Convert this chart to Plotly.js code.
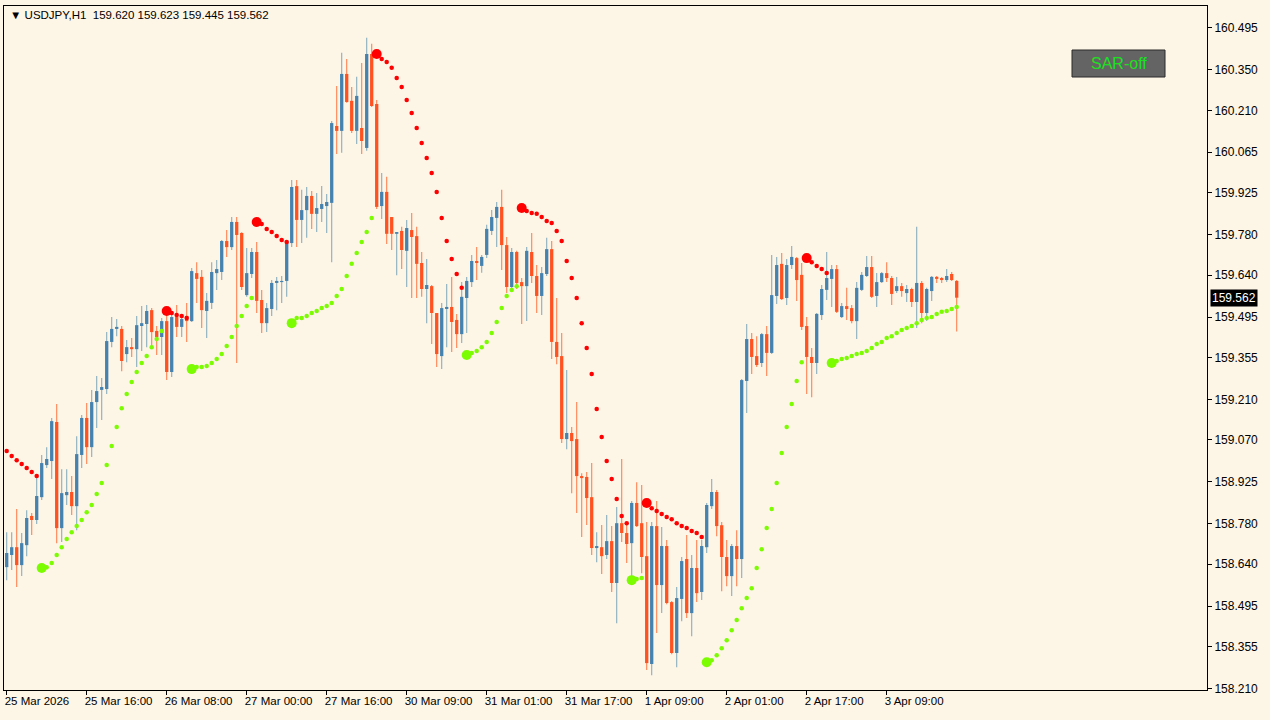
<!DOCTYPE html>
<html><head><meta charset="utf-8">
<script src="https://cdn.plot.ly/plotly-3.0.1.min.js"></script>
<style>html,body{margin:0;padding:0;background:#FDF5E6;}#chart{width:1270px;height:720px;}</style>
</head><body><div id="chart"></div>
<script>
const chartTitle = '\u25BC USDJPY,H1\u00a0\u00a0159.620 159.623 159.445 159.562';
const lastPrice = 159.562;

const opens = [
158.630,158.672,158.699,158.637,158.706,158.807,158.793,158.872,158.983,158.997,
159.132,158.765,158.879,158.890,158.841,159.018,159.146,159.045,159.201,159.243,
159.246,159.409,159.454,159.454,159.367,159.391,159.384,159.464,159.471,159.519,
159.447,159.426,159.481,159.305,159.495,159.461,159.499,159.481,159.647,159.634,
159.516,159.544,159.647,159.651,159.758,159.737,159.824,159.786,159.571,159.644,
159.720,159.554,159.474,159.523,159.613,159.616,159.620,159.751,159.948,159.831,
159.865,159.914,159.852,159.869,159.879,159.890,160.156,160.139,160.336,160.243,
160.139,160.149,160.080,160.405,160.232,159.879,159.928,159.841,159.783,159.793,
159.724,159.796,159.775,159.682,159.592,159.602,159.509,159.360,159.523,159.530,
159.485,159.436,159.561,159.616,159.689,159.672,159.710,159.793,159.838,159.876,
159.744,159.599,159.720,159.616,159.602,159.720,159.637,159.568,159.644,159.730,
159.409,159.360,159.073,159.094,159.073,158.945,158.942,158.872,158.696,158.699,
158.672,158.720,158.575,158.782,158.748,158.713,158.852,158.782,158.668,158.295,
158.772,158.568,158.703,158.509,158.333,158.520,158.658,158.471,158.627,158.544,
158.699,158.841,158.890,158.775,158.665,158.599,158.703,158.658,159.274,159.419,
159.360,159.336,159.436,159.371,159.568,159.679,159.561,159.675,159.699,159.641,
159.464,159.357,159.336,159.502,159.589,159.627,159.661,159.495,159.533,159.526,
159.481,159.589,159.637,159.668,159.568,159.616,159.647,159.630,159.585,159.602,
159.578,159.592,159.547,159.613,159.509,159.585,159.634,159.630,159.623,159.644,
159.620];

const highs = [
158.751,158.751,158.831,158.748,158.827,158.817,158.938,159.018,159.045,159.146,
159.194,158.969,158.969,158.945,159.083,159.156,159.198,159.243,159.291,159.284,
159.443,159.495,159.488,159.464,159.416,159.423,159.499,159.533,159.537,159.526,
159.464,159.492,159.512,159.502,159.537,159.506,159.544,159.665,159.685,159.658,
159.578,159.685,159.692,159.762,159.796,159.841,159.841,159.788,159.734,159.734,
159.755,159.589,159.544,159.623,159.634,159.637,159.762,159.969,159.969,159.935,
159.945,159.931,159.924,159.948,159.921,160.173,160.294,160.409,160.388,160.291,
160.326,160.374,160.461,160.440,160.246,159.993,159.980,159.841,159.789,159.807,
159.831,159.855,159.807,159.720,159.696,159.606,159.509,159.544,159.609,159.634,
159.506,159.616,159.634,159.710,159.737,159.710,159.814,159.865,159.893,159.935,
159.772,159.734,159.724,159.630,159.737,159.786,159.675,159.668,159.769,159.758,
159.561,159.440,159.312,159.115,159.201,158.955,158.959,158.990,158.751,158.776,
158.810,158.772,158.838,159.004,158.786,158.859,158.924,158.914,158.786,158.786,
158.859,158.769,158.724,158.513,158.561,158.665,158.741,158.672,158.724,158.724,
158.852,158.935,158.897,158.786,158.724,158.710,158.758,159.281,159.471,159.440,
159.429,159.440,159.464,159.710,159.703,159.717,159.696,159.741,159.703,159.682,
159.495,159.388,159.509,159.606,159.720,159.675,159.675,159.544,159.596,159.537,
159.616,159.651,159.706,159.706,159.647,159.651,159.685,159.637,159.634,159.613,
159.606,159.596,159.807,159.620,159.596,159.637,159.637,159.634,159.661,159.651,
159.623];

const lows = [
158.585,158.620,158.561,158.599,158.668,158.741,158.779,158.862,158.973,158.935,
158.713,158.717,158.845,158.810,158.758,158.973,158.987,159.011,159.111,159.139,
159.229,159.391,159.429,159.308,159.339,159.357,159.322,159.378,159.391,159.391,
159.364,159.364,159.277,159.288,159.426,159.426,159.409,159.478,159.544,159.457,
159.423,159.523,159.589,159.623,159.703,159.727,159.336,159.589,159.565,159.630,
159.509,159.440,159.443,159.499,159.519,159.544,159.565,159.737,159.737,159.751,
159.769,159.800,159.789,159.824,159.786,159.685,160.059,160.063,160.236,160.132,
160.094,160.059,160.070,160.222,159.869,159.834,159.748,159.727,159.640,159.661,
159.599,159.561,159.561,159.565,159.474,159.402,159.322,159.315,159.391,159.374,
159.388,159.405,159.440,159.599,159.623,159.648,159.699,159.779,159.737,159.658,
159.578,159.589,159.592,159.471,159.481,159.613,159.509,159.502,159.637,159.350,
159.332,159.059,159.038,158.886,158.817,158.734,158.776,158.672,158.647,158.606,
158.658,158.544,158.436,158.717,158.644,158.575,158.769,158.609,158.274,158.256,
158.402,158.471,158.502,158.329,158.284,158.443,158.454,158.391,158.509,158.516,
158.679,158.831,158.737,158.547,158.564,158.530,158.564,158.592,159.163,159.298,
159.322,159.322,159.291,159.367,159.540,159.554,159.537,159.661,159.551,159.450,
159.229,159.218,159.298,159.485,159.554,159.530,159.509,159.492,159.485,159.474,
159.419,159.585,159.634,159.561,159.530,159.613,159.616,159.537,159.578,159.565,
159.547,159.530,159.457,159.474,159.481,159.551,159.613,159.613,159.616,159.620,
159.445];

const closes = [
158.679,158.699,158.637,158.713,158.800,158.793,158.876,158.990,159.004,159.135,
158.765,158.886,158.890,158.841,159.021,159.146,159.045,159.201,159.239,159.253,
159.412,159.454,159.461,159.343,159.391,159.384,159.467,159.474,159.516,159.443,
159.426,159.481,159.305,159.495,159.461,159.488,159.481,159.654,159.627,159.519,
159.551,159.651,159.661,159.758,159.737,159.824,159.779,159.599,159.647,159.720,
159.551,159.474,159.526,159.613,159.620,159.620,159.755,159.945,159.831,159.865,
159.914,159.852,159.872,159.886,159.893,160.166,160.139,160.336,160.239,160.139,
160.260,160.104,160.405,160.225,159.876,159.928,159.783,159.783,159.789,159.727,
159.803,159.772,159.679,159.592,159.606,159.509,159.367,159.526,159.530,159.478,
159.436,159.565,159.620,159.689,159.682,159.703,159.800,159.841,159.876,159.744,
159.599,159.720,159.613,159.602,159.724,159.637,159.568,159.647,159.730,159.409,
159.357,159.073,159.094,159.066,158.945,158.938,158.869,158.696,158.703,158.668,
158.720,158.575,158.782,158.748,158.710,158.852,158.772,158.665,158.298,158.772,
158.568,158.703,158.506,158.333,158.523,158.651,158.471,158.627,158.540,158.703,
158.845,158.890,158.772,158.665,158.599,158.703,158.658,159.277,159.419,159.357,
159.329,159.436,159.371,159.571,159.675,159.557,159.675,159.703,159.623,159.461,
159.357,159.336,159.506,159.592,159.630,159.661,159.513,159.533,159.523,159.481,
159.596,159.641,159.668,159.565,159.616,159.647,159.630,159.575,159.602,159.585,
159.592,159.547,159.613,159.509,159.592,159.634,159.627,159.623,159.637,159.623,
159.562];

// Parabolic SAR value per bar
const sar = [
159.032,159.014,159.000,158.987,158.973,158.959,158.945,158.627,158.630,158.644,
158.672,158.699,158.727,158.751,158.772,158.793,158.820,158.845,158.883,158.921,
158.983,159.049,159.115,159.180,159.229,159.270,159.305,159.336,159.360,159.391,
159.419,159.447,159.516,159.509,159.502,159.499,159.492,159.315,159.322,159.322,
159.326,159.336,159.350,159.367,159.395,159.426,159.464,159.499,159.533,159.561,
159.824,159.817,159.800,159.789,159.775,159.762,159.755,159.474,159.492,159.492,
159.499,159.509,159.516,159.526,159.533,159.544,159.568,159.592,159.637,159.679,
159.717,159.755,159.789,159.838,160.405,160.388,160.377,160.357,160.322,160.291,
160.246,160.201,160.149,160.097,160.045,159.993,159.928,159.838,159.758,159.696,
159.644,159.596,159.364,159.371,159.378,159.391,159.409,159.440,159.478,159.526,
159.568,159.589,159.602,159.872,159.862,159.855,159.852,159.841,159.827,159.820,
159.793,159.758,159.689,159.630,159.561,159.474,159.388,159.298,159.177,159.080,
158.997,158.935,158.866,158.807,158.782,158.585,158.589,158.592,158.852,158.834,
158.824,158.814,158.803,158.796,158.782,158.772,158.765,158.755,158.748,158.734,
158.301,158.308,158.325,158.349,158.377,158.412,158.447,158.488,158.523,158.557,
158.627,158.692,158.765,158.831,158.921,159.025,159.115,159.194,159.274,159.339,
159.699,159.685,159.672,159.661,159.647,159.336,159.343,159.350,159.353,159.360,
159.367,159.371,159.378,159.388,159.402,159.409,159.423,159.429,159.440,159.450,
159.457,159.464,159.474,159.485,159.492,159.495,159.506,159.513,159.516,159.523,
159.530];

// SAR trend runs: [-1 = above price (red), +1 = below price (green), number of bars]
const sarRuns = [[-1,7],[1,25],[-1,5],[1,13],[-1,7],[1,17],[-1,18],[1,11],[-1,22],[1,3],[-1,12],[1,20],[-1,5],[1,26]];

const xTickLabels = ['25 Mar 2026','25 Mar 16:00','26 Mar 08:00','27 Mar 00:00','27 Mar 16:00','30 Mar 09:00',
  '31 Mar 01:00','31 Mar 17:00','1 Apr 09:00','2 Apr 01:00','2 Apr 17:00','3 Apr 09:00'];
const barsPerLabel = 16;
const yTickLabels = ['160.495','160.350','160.210','160.065','159.925','159.780','159.640','159.495',
  '159.355','159.210','159.070','158.925','158.780','158.640','158.495','158.355','158.210'];

const idx = opens.map((_, i) => i);
const isUp = idx.map(i => closes[i] >= opens[i]);
const dirs = [];
sarRuns.forEach(([d, n]) => { for (let k = 0; k < n; k++) dirs.push(d); });
const redY = sar.map((v, i) => dirs[i] < 0 ? v : null);
const greenY = sar.map((v, i) => dirs[i] > 0 ? v : null);
const starts = idx.filter(i => i > 0 && dirs[i] !== dirs[i - 1]);
const bigRed = starts.filter(i => dirs[i] < 0);
const bigGreen = starts.filter(i => dirs[i] > 0);

const UP_BODY = '#4682AE', UP_WICK = '#86AEBC';
const DN_BODY = '#FF5220', DN_WICK = '#FF8050';
const BG = '#FDF5E6';
const FONT = 'Liberation Sans, Arial, sans-serif';
const MIN_BODY = 0.003;

const traces = [
  // wicks (high-low range)
  { type: 'bar', x: idx, base: lows, y: idx.map(i => highs[i] - lows[i]), width: 0.22,
    marker: { color: idx.map(i => isUp[i] ? UP_WICK : DN_WICK), line: { width: 0 } },
    hoverinfo: 'skip', showlegend: false },
  // bodies (open-close range)
  { type: 'bar', x: idx,
    base: idx.map(i => Math.min(opens[i], closes[i]) - (Math.abs(closes[i] - opens[i]) < MIN_BODY ? MIN_BODY / 2 : 0)),
    y: idx.map(i => Math.max(Math.abs(closes[i] - opens[i]), MIN_BODY)),
    width: 0.66,
    marker: { color: idx.map(i => isUp[i] ? UP_BODY : DN_BODY), line: { width: 0 } },
    hoverinfo: 'skip', showlegend: false },
  { type: 'scatter', mode: 'markers', x: idx, y: redY,
    marker: { color: '#FF0000', size: 4.5 }, hoverinfo: 'skip', showlegend: false },
  { type: 'scatter', mode: 'markers', x: idx, y: greenY,
    marker: { color: '#7CFC00', size: 4.5 }, hoverinfo: 'skip', showlegend: false },
  { type: 'scatter', mode: 'markers', x: bigRed, y: bigRed.map(i => sar[i]),
    marker: { color: '#FF0000', size: 10 }, hoverinfo: 'skip', showlegend: false },
  { type: 'scatter', mode: 'markers', x: bigGreen, y: bigGreen.map(i => sar[i]),
    marker: { color: '#7CFC00', size: 10 }, hoverinfo: 'skip', showlegend: false }
];

const L = 4, R = 1207, T = 6, B = 690;
const px = x => (x - L) / (R - L);
const py = y => (B - y) / (B - T);

const layout = {
  width: 1270, height: 720,
  margin: { l: L, r: 1270 - R, t: T, b: 720 - B, pad: 0 },
  paper_bgcolor: BG, plot_bgcolor: BG,
  showlegend: false, barmode: 'overlay',
  font: { family: FONT, size: 11, color: '#000' },
  xaxis: {
    range: [-0.54, 240.06],
    tickvals: xTickLabels.map((_, k) => k * barsPerLabel), ticktext: xTickLabels,
    ticks: 'outside', ticklen: 4, tickcolor: '#000', ticklabelposition: 'outside right',
    ticklabelshift: -3,
    tickfont: { family: FONT, size: 11.5, color: '#000' },
    showgrid: false, zeroline: false, showline: true, linecolor: '#000', linewidth: 1, mirror: true,
    fixedrange: true
  },
  yaxis: {
    range: [158.205, 160.571], side: 'right',
    tickvals: yTickLabels.map(Number), ticktext: yTickLabels,
    ticks: 'outside', ticklen: 4, tickcolor: '#000',
    tickfont: { family: FONT, size: 12, color: '#000' },
    showgrid: false, zeroline: false, showline: true, linecolor: '#000', linewidth: 1, mirror: true,
    fixedrange: true
  },
  shapes: [
    { type: 'rect', xref: 'paper', yref: 'paper', x0: px(1072), x1: px(1165), y0: py(77), y1: py(50),
      fillcolor: '#646464', line: { color: '#2a2a2a', width: 1 } }
  ],
  annotations: [
    { xref: 'paper', yref: 'paper', x: px(8), y: py(15), xanchor: 'left', yanchor: 'middle',
      text: chartTitle, showarrow: false, font: { family: FONT, size: 11.5, color: '#000' } },
    { xref: 'paper', yref: 'paper', x: px(1119), y: py(64), xanchor: 'center', yanchor: 'middle',
      text: 'SAR-off', showarrow: false, font: { family: FONT, size: 16, color: '#1EE01E' } },
    { xref: 'paper', yref: 'y', x: px(1210), y: lastPrice, xanchor: 'left', yanchor: 'middle',
      text: lastPrice.toFixed(3), showarrow: false, bgcolor: '#000', borderpad: 1,
      font: { family: FONT, size: 12, color: '#fff' } }
  ]
};

Plotly.newPlot('chart', traces, layout, { staticPlot: true, displayModeBar: false });
</script></body></html>
